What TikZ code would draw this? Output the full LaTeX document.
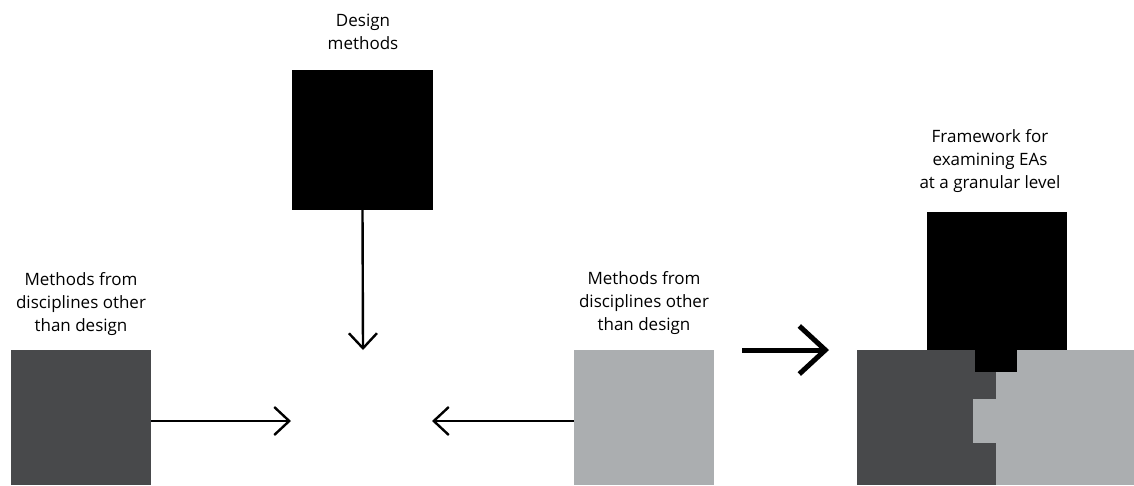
\documentclass[tikz,border=0pt]{standalone}
\usepackage{fontspec}
\setmainfont{Open Sans}
\usetikzlibrary{arrows.meta}
\definecolor{darkg}{HTML}{48494B}
\definecolor{lightg}{HTML}{ABAEB0}
\tikzset{
  box/.style={inner sep=0pt, outer sep=0pt, draw=none, anchor=north west},
  lbl/.style={align=center, inner sep=0pt, anchor=north, font=\fontsize{17}{23}\selectfont, text=black},
  thinarrow/.style={line width=2.4pt, -{Straight Barb[length=15pt, width=28pt, line width=2.4pt]}},
  thickarrow/.style={line width=5pt, -{Straight Barb[length=26pt, width=48pt, line width=5pt]}}
}
\begin{document}
\begin{tikzpicture}[x=1pt, y=-1pt]
\useasboundingbox (0,0) rectangle (1134,485);
% left stage
\node[box, fill=black, minimum width=141pt, minimum height=140pt] (dm) at (292,70) {};
\node[box, fill=darkg, minimum width=140pt, minimum height=135pt] (od) at (11,350) {};
\node[box, fill=lightg, minimum width=140pt, minimum height=135pt] (ol) at (574,350) {};
\coordinate (ttop) at (363,350);
\coordinate (tleft) at (291,421);
\coordinate (tright) at (432,421);
\coordinate (odR) at (151,421);
\coordinate (olL) at (574,421);
\draw[thinarrow] (dm.south) -- (ttop);
\draw[thinarrow] (odR) -- (tleft);
\draw[thinarrow] (olL) -- (tright);
\node[lbl] (ldm) at (363,14) {Design\\methods};
\node[lbl] (lod) at (81,272) {Methods from\\disciplines other\\than design};
\node[lbl] (lol) at (644,271) {Methods from\\disciplines other\\than design};
% big arrow
\coordinate (ba1) at (742,350);
\coordinate (ba2) at (829,350);
\draw[thickarrow] (ba1) -- (ba2);
% composite
\node[box, fill=darkg, minimum width=139pt, minimum height=135pt] (cd) at (857,350) {};
\node[box, fill=lightg, minimum width=138pt, minimum height=135pt] (cl) at (996,350) {};
\node[box, fill=lightg, minimum width=23pt, minimum height=44pt] (ctab) at (973,399) {};
\node[box, fill=black, minimum width=140pt, minimum height=138pt] (cb) at (927,212) {};
\node[box, fill=black, minimum width=42pt, minimum height=22pt] (cbt) at (975,350) {};
\node[lbl] (lfw) at (990,129) {Framework for\\examining EAs\\at a granular level};
\end{tikzpicture}
\end{document}
